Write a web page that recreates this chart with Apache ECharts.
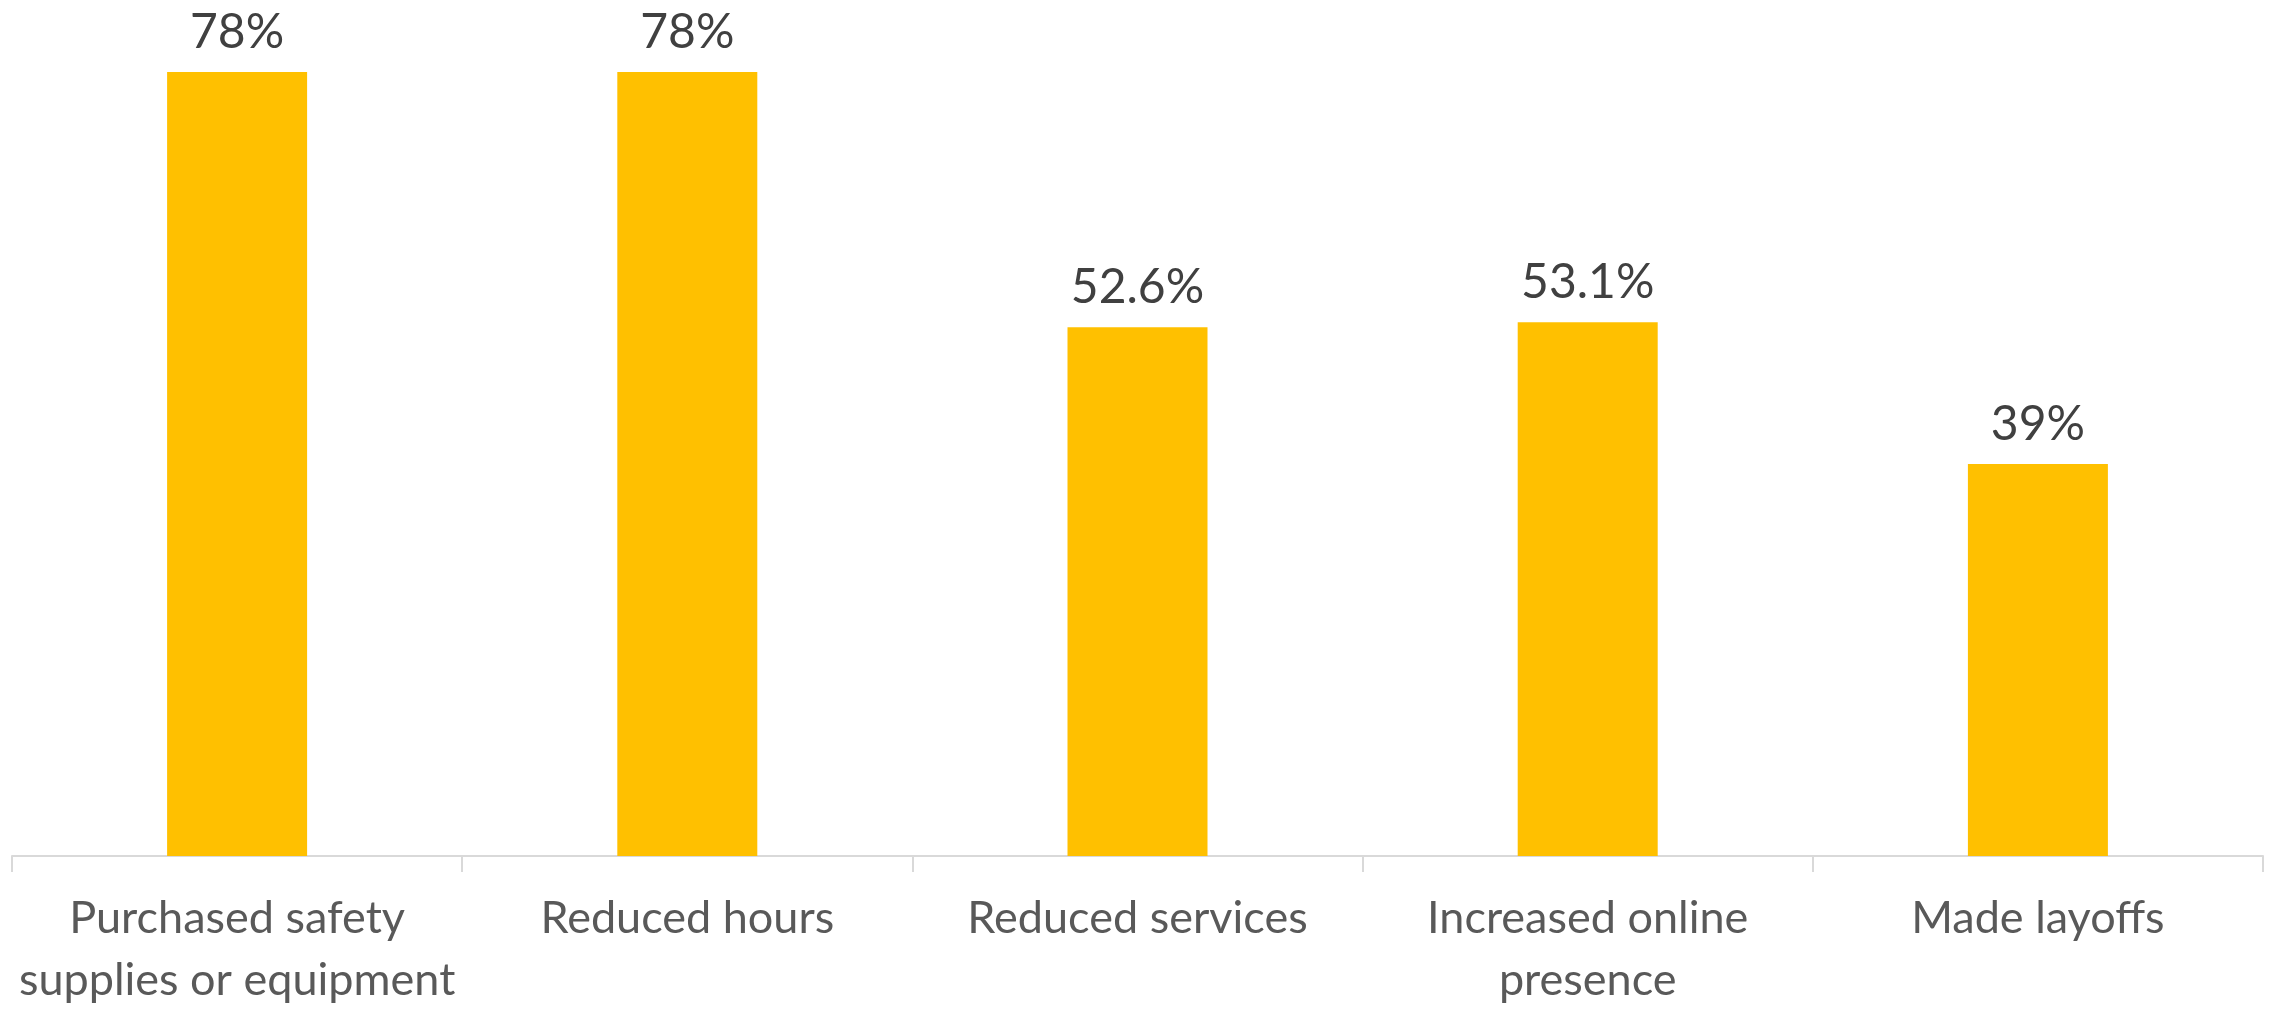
<!DOCTYPE html>
<html>
<head>
<meta charset="utf-8">
<script src="https://cdn.jsdelivr.net/npm/echarts@6/dist/echarts.min.js"></script>
<style>
html,body{margin:0;padding:0;background:#fff;}
#main{width:2270px;height:1011px;}
</style>
</head>
<body>
<div id="main"></div>
<script>
// categories and values
var categories = ['Purchased safety\nsupplies or equipment', 'Reduced hours', 'Reduced services', 'Increased online\npresence', 'Made layoffs'];
var values = [78, 78, 52.6, 53.1, 39];
var valueLabels = ['78%', '78%', '52.6%', '53.1%', '39%'];

var myChart = echarts.init(document.getElementById('main'));
var option = {
	animation: false,
	grid: { left: 12, right: 7, top: 52, bottom: 145 },
	xAxis: {
		type: 'category',
		data: categories,
		axisLine: { lineStyle: { color: '#d9d9d9', width: 2 } },
		axisTick: { show: true, length: 16, lineStyle: { color: '#d9d9d9', width: 2 } },
		axisLabel: {
			color: '#595959',
			fontFamily: 'Lato',
			fontSize: 45,
			lineHeight: 62,
			margin: 31,
			interval: 0
		}
	},
	yAxis: {
		type: 'value',
		min: 0,
		max: 80,
		show: false
	},
	series: [{
		type: 'bar',
		data: values,
		barWidth: 140,
		itemStyle: { color: '#FFC000' },
		label: {
			show: true,
			position: 'top',
			distance: 16,
			color: '#404040',
			fontFamily: 'Lato',
			fontSize: 48,
			formatter: function(p){ return valueLabels[p.dataIndex]; }
		}
	}]
};
myChart.setOption(option);
</script>
</body>
</html>
